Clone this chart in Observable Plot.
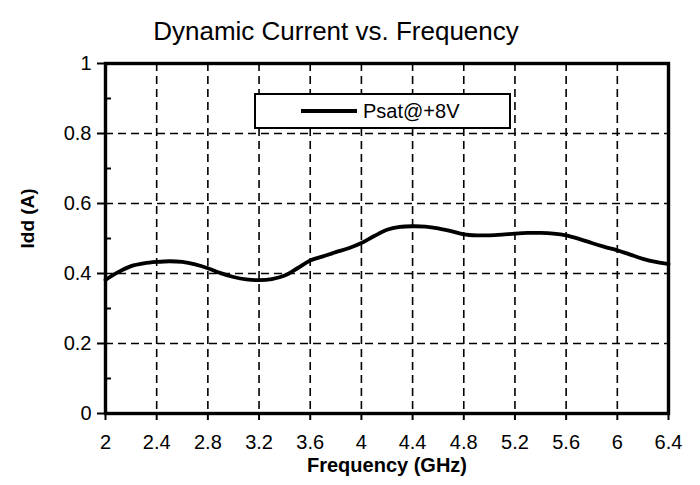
<!DOCTYPE html>
<html>
<head>
<meta charset="utf-8">
<script src="https://cdn.jsdelivr.net/npm/d3@7"></script>
<script src="https://cdn.jsdelivr.net/npm/@observablehq/plot@0.6"></script>
<style>
  html, body { margin: 0; padding: 0; background: #fff; }
  #chart { position: relative; width: 700px; height: 485px; font-family: "Liberation Sans", Arial, sans-serif; }
  #legend {
    position: absolute; left: 254px; top: 93px; width: 253px; height: 32px;
    border: 2px solid #000; background: #fff;
    display: flex; align-items: center; box-sizing: content-box;
  }
  #legend .swatch { margin-left: 45px; width: 56px; height: 0; border-top: 4px solid #000; }
  #legend .name { margin-left: 6px; font-size: 20px; color: #000; }
</style>
</head>
<body>
<div id="chart"></div>
<script>
// Dynamic drain current measured across the band
const freqGHz = [2.0, 2.1, 2.2, 2.3, 2.4, 2.5, 2.6, 2.7, 2.8, 2.9,
                 3.0, 3.1, 3.2, 3.3, 3.4, 3.5, 3.6, 3.7, 3.8, 3.9,
                 4.0, 4.1, 4.2, 4.3, 4.4, 4.5, 4.6, 4.7, 4.8, 4.9,
                 5.0, 5.1, 5.2, 5.3, 5.4, 5.5, 5.6, 5.7, 5.8, 5.9,
                 6.0, 6.1, 6.2, 6.3, 6.4];
const iddAmps = [0.382, 0.404, 0.421, 0.429, 0.433, 0.435, 0.433, 0.426, 0.415, 0.401,
                 0.390, 0.383, 0.381, 0.384, 0.394, 0.415, 0.437, 0.449, 0.461, 0.472,
                 0.487, 0.507, 0.525, 0.533, 0.535, 0.534, 0.529, 0.521, 0.512, 0.509,
                 0.509, 0.511, 0.514, 0.516, 0.516, 0.514, 0.509, 0.499, 0.487, 0.476,
                 0.466, 0.454, 0.442, 0.433, 0.427];
const seriesName = "Psat@+8V";

const xTicks = [2, 2.4, 2.8, 3.2, 3.6, 4, 4.4, 4.8, 5.2, 5.6, 6, 6.4];
const yTicks = [0, 0.2, 0.4, 0.6, 0.8, 1];
const yMinorTicks = [0.1, 0.3, 0.5, 0.7, 0.9];

const titleText = "Dynamic Current vs. Frequency";
const xLabel = "Frequency (GHz)";
const yLabel = "Idd (A)";

const rows = freqGHz.map((f, i) => ({ f, idd: iddAmps[i] }));

const W = 700, H = 485;
const mL = 105, mR = 32, mT = 63, mB = 72;
const innerW = W - mL - mR;

const dash = { stroke: "#000", strokeOpacity: 1, strokeWidth: 1.6, strokeDasharray: "8,5" };

const chart = Plot.plot({
  width: W,
  height: H,
  marginLeft: mL,
  marginRight: mR,
  marginTop: mT,
  marginBottom: mB,
  style: { fontFamily: "'Liberation Sans', Arial, sans-serif", background: "#fff", color: "#000" },
  x: { domain: [2, 6.4] },
  y: { domain: [0, 1] },
  marks: [
    Plot.gridX(xTicks.slice(1, -1), dash),
    Plot.gridY(yTicks.slice(1, -1), dash),
    Plot.line(rows, { x: "f", y: "idd", curve: "catmull-rom", stroke: "#000", strokeWidth: 3.8 }),
    Plot.frame({ stroke: "#000", strokeWidth: 3.4 }),
    Plot.axisY({ ticks: yTicks, tickSize: 8, tickPadding: 6, fontSize: 20, label: null, strokeWidth: 2,
                 tickFormat: d => String(d) }),
    Plot.tickY(yMinorTicks, { y: d => d, stroke: "#000", strokeWidth: 2, insetRight: innerW - 6 }),
    Plot.axisX({ ticks: xTicks, tickSize: 7, tickPadding: 14, fontSize: 20, label: null, strokeWidth: 2,
                 tickFormat: d => String(d) }),
    Plot.text([xLabel], { frameAnchor: "bottom", dy: 58, fontSize: 20, fontWeight: "bold", fill: "#000" }),
    Plot.text([yLabel], { frameAnchor: "left", dx: -78, dy: 10, rotate: -90, fontSize: 19, fontWeight: "bold", fill: "#000" }),
    Plot.text([titleText], { frameAnchor: "top", dx: -51, dy: -42, fontSize: 26, fill: "#000" })
  ]
});

const host = document.getElementById("chart");
host.appendChild(chart);

const legend = document.createElement("div");
legend.id = "legend";
legend.innerHTML = `<div class="swatch"></div><div class="name">${seriesName}</div>`;
host.appendChild(legend);
</script>
</body>
</html>
